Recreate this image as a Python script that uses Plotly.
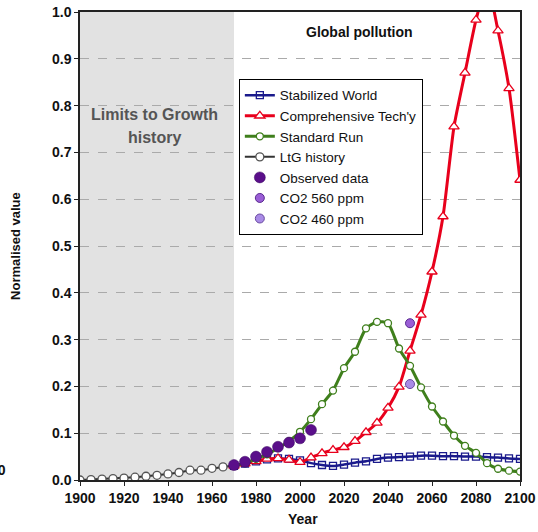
import plotly.graph_objects as go

# ---- data ----
years_ltg = [1900, 1905, 1910, 1915, 1920, 1925, 1930, 1935, 1940, 1945, 1950, 1955, 1960, 1965, 1970]
ltg_history = [0.0, 0.001, 0.002, 0.003, 0.004, 0.006, 0.008, 0.010, 0.013, 0.016, 0.021, 0.021, 0.025, 0.028, 0.031]

years_sim = list(range(1970, 2101, 5))
stabilized = [0.030, 0.035, 0.040, 0.044, 0.046, 0.045, 0.042, 0.036, 0.032, 0.030, 0.033, 0.037,
              0.040, 0.045, 0.048, 0.049, 0.050, 0.052, 0.052, 0.051, 0.051, 0.050, 0.050, 0.049,
              0.048, 0.046, 0.045]
comprehensive = [0.030, 0.035, 0.040, 0.045, 0.046, 0.043, 0.038, 0.048, 0.057, 0.064, 0.070, 0.083,
                 0.102, 0.122, 0.154, 0.199, 0.276, 0.353, 0.445, 0.563, 0.755, 0.870, 0.983, 1.06,
                 0.960, 0.837, 0.641]
standard = [0.030, 0.036, 0.045, 0.055, 0.068, 0.083, 0.103, 0.130, 0.162, 0.191, 0.239, 0.274,
            0.324, 0.338, 0.335, 0.281, 0.244, 0.198, 0.157, 0.125, 0.095, 0.073, 0.058, 0.036,
            0.024, 0.020, 0.018]

years_obs = [1970, 1975, 1980, 1985, 1990, 1995, 2000, 2005]
observed = [0.032, 0.039, 0.050, 0.060, 0.071, 0.080, 0.089, 0.107]

co2_year = [2050]
co2_560 = [0.335]
co2_460 = [0.205]

FONT = "Liberation Sans, Arial, sans-serif"

fig = go.Figure()

fig.add_trace(go.Scatter(x=years_sim, y=stabilized, name="Stabilized World", mode="lines+markers",
                         line=dict(color="#1a1a8c", width=2.5, shape="spline", smoothing=0.6),
                         marker=dict(symbol="square-open", size=7, color="#1a1a8c", line=dict(width=1.3))))
fig.add_trace(go.Scatter(x=years_sim, y=comprehensive, name="Comprehensive Tech'y", mode="lines+markers",
                         line=dict(color="#e8001c", width=3, shape="spline", smoothing=0.6),
                         marker=dict(symbol="triangle-up", size=9, color="white",
                                     line=dict(color="#e8001c", width=1.3))))
fig.add_trace(go.Scatter(x=years_sim, y=standard, name="Standard Run", mode="lines+markers",
                         line=dict(color="#3f7f1c", width=3, shape="spline", smoothing=0.6),
                         marker=dict(symbol="circle", size=7, color="white",
                                     line=dict(color="#3f7f1c", width=1.3))))
fig.add_trace(go.Scatter(x=years_ltg, y=ltg_history, name="LtG history", mode="lines+markers",
                         line=dict(color="#333333", width=2),
                         marker=dict(symbol="circle", size=8, color="white",
                                     line=dict(color="#555555", width=1.3))))
fig.add_trace(go.Scatter(x=years_obs, y=observed, name="Observed data", mode="markers",
                         marker=dict(symbol="circle", size=11, color="#5a0f8a",
                                     line=dict(color="#3d0a60", width=0.5))))
fig.add_trace(go.Scatter(x=co2_year, y=co2_560, name="CO2 560 ppm", mode="markers",
                         marker=dict(symbol="circle", size=9, color="#9a5ed6",
                                     line=dict(color="#5a2a90", width=1))))
fig.add_trace(go.Scatter(x=co2_year, y=co2_460, name="CO2 460 ppm", mode="markers",
                         marker=dict(symbol="circle", size=9, color="#a98be6",
                                     line=dict(color="#6a4aa0", width=1))))

fig.add_shape(type="rect", xref="x", yref="y", x0=1900, x1=1970, y0=0, y1=1,
              fillcolor="#e2e2e2", line=dict(width=0), layer="below")

fig.add_annotation(x=2027, y=0.957, text="<b>Global pollution</b>", showarrow=False,
                   font=dict(family=FONT, size=14, color="#111111"))
fig.add_annotation(x=1934, y=0.78, text="<b>Limits to Growth</b>", showarrow=False,
                   font=dict(family=FONT, size=16, color="#555555"))
fig.add_annotation(x=1934, y=0.731, text="<b>history</b>", showarrow=False,
                   font=dict(family=FONT, size=16, color="#555555"))
fig.add_annotation(xref="paper", yref="paper", x=-0.163, y=0.0, text="<b>00</b>", showarrow=False,
                   xanchor="right", font=dict(family=FONT, size=14, color="#111111"))
# axis titles
fig.add_annotation(xref="paper", yref="paper", x=0.506, y=-0.083, yanchor="middle", xanchor="center",
                   text="<b>Year</b>", showarrow=False, font=dict(family=FONT, size=14, color="#111111"))
fig.add_annotation(xref="paper", yref="paper", x=-0.148, y=0.5, textangle=-90,
                   xanchor="center", yanchor="middle",
                   text="<b>Normalised value</b>", showarrow=False,
                   font=dict(family=FONT, size=13, color="#111111"))

fig.update_layout(
    width=538, height=532,
    margin=dict(l=80, r=18, t=12, b=52, autoexpand=False),
    paper_bgcolor="white", plot_bgcolor="white",
    font=dict(family=FONT, size=12, color="#111111"),
    showlegend=True,
    legend=dict(x=0.361, y=0.857, xanchor="left", yanchor="top",
                bgcolor="white", bordercolor="black", borderwidth=1,
                font=dict(family=FONT, size=13.5, color="#111111"),
                tracegroupgap=0, itemwidth=30),
)
fig.update_xaxes(range=[1900, 2100], dtick=20, tick0=1900, showgrid=False, zeroline=False,
                 showline=True, linecolor="#222222", linewidth=1.5, mirror=True,
                 ticks="outside", ticklen=4, tickcolor="#222222", automargin=False,
                 tickfont=dict(family=FONT, size=14, weight="bold"))
fig.update_yaxes(range=[0, 1], dtick=0.1, tickformat=".1f", showgrid=True, gridcolor="#aaaaaa",
                 griddash="dash", gridwidth=1, zeroline=False,
                 showline=True, linecolor="#222222", linewidth=1.5, mirror=True,
                 ticks="outside", ticklen=4, tickcolor="#222222", automargin=False,
                 tickfont=dict(family=FONT, size=14, weight="bold"))

fig.write_html("out.html", config={"displayModeBar": False},
               post_script="document.body.style.margin='0px';")
